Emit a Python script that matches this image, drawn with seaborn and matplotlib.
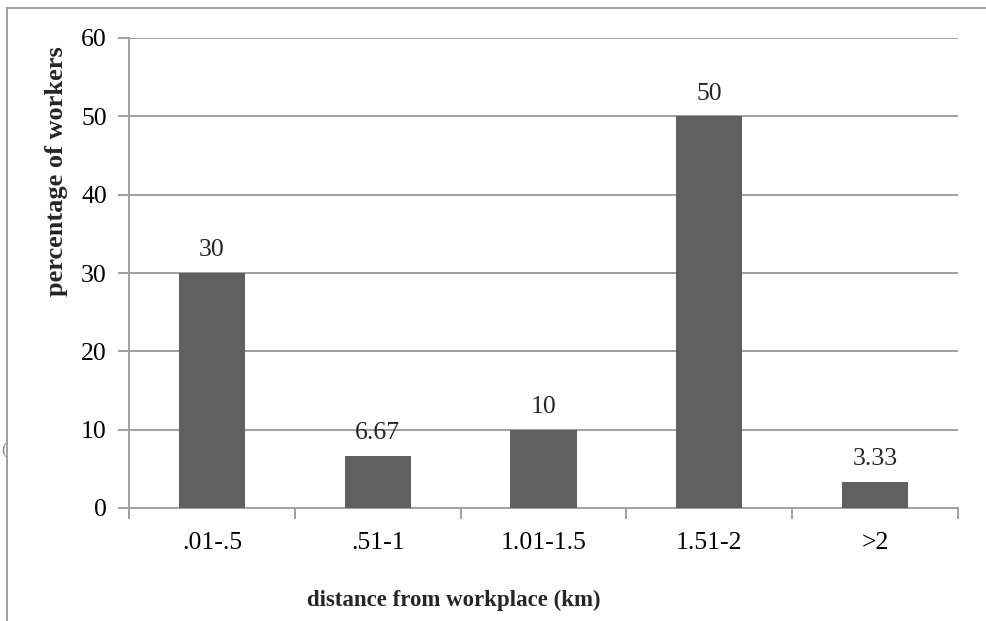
import matplotlib
matplotlib.use("Agg")
import matplotlib.pyplot as plt
from matplotlib.lines import Line2D
import seaborn as sns
import pandas as pd

categories = [".01-.5", ".51-1", "1.01-1.5", "1.51-2", ">2"]
percent = [30, 6.67, 10, 50, 3.33]
value_labels = ["30", "6.67", "10", "50", "3.33"]
y_ticks = [0, 10, 20, 30, 40, 50, 60]

sns.set_theme(style="white")
plt.rcParams["font.family"] = ["Liberation Serif", "DejaVu Serif"]

df = pd.DataFrame({"distance": categories, "percent": percent})

fig = plt.figure(figsize=(9.86, 6.21), dpi=100)
ax = fig.add_axes([129 / 986, 1 - 508 / 621, 829 / 986, 470 / 621])

grid_c = "#a0a0a0"
sns.barplot(data=df, x="distance", y="percent", color="#606060",
            width=0.4, saturation=1, linewidth=0, ax=ax, zorder=3)

ax.set_ylim(0, 60)
ax.set_xlim(-0.5, len(categories) - 0.5)
ax.set_yticks(y_ticks)
ax.set_yticklabels([str(t) for t in y_ticks], fontsize=18.5)
ax.yaxis.grid(True, color=grid_c, linewidth=1.4, zorder=0)
ax.set_axisbelow(True)

for side in ["top", "right"]:
    ax.spines[side].set_visible(False)
for side in ["left", "bottom"]:
    ax.spines[side].set_color(grid_c)
    ax.spines[side].set_linewidth(1.4)

ax.tick_params(axis="y", left=True, length=8, width=1.4, color=grid_c,
               pad=8, labelcolor="black")
# category boundary ticks on the x axis
ax.set_xticks([i - 0.5 for i in range(len(categories) + 1)], minor=False)
ax.set_xticklabels([])
ax.tick_params(axis="x", bottom=True, length=8, width=1.4, color=grid_c)
ax.set_xticks(range(len(categories)), minor=True)
ax.set_xticklabels(categories, minor=True, fontsize=18.5)
ax.tick_params(axis="x", which="minor", length=0, pad=17, labelcolor="black")

for i, (v, lab) in enumerate(zip(percent, value_labels)):
    ax.annotate(lab, (i, v), xytext=(0, 12), textcoords="offset points",
                ha="center", va="baseline", fontsize=18.5)

ax.set_ylabel("percentage of workers", fontsize=19, fontweight="bold")
ax.yaxis.set_label_coords(-0.0736, 0.717)
ax.set_xlabel("distance from workplace (km)", fontsize=16.5, fontweight="bold")
ax.xaxis.set_label_coords(0.392, -0.174)

# outer frame lines
fig.add_artist(Line2D([7 / 986, 1.0], [1 - 8 / 621, 1 - 8 / 621],
                      transform=fig.transFigure, color=grid_c, linewidth=1.4))
fig.add_artist(Line2D([7 / 986, 7 / 986], [0, 1 - 8 / 621],
                      transform=fig.transFigure, color=grid_c, linewidth=1.4))
fig.text(1 / 986, 1 - 450 / 621, "(", fontsize=12, color="#909090",
         va="center", ha="left")

fig.savefig("out.png", dpi=100)
